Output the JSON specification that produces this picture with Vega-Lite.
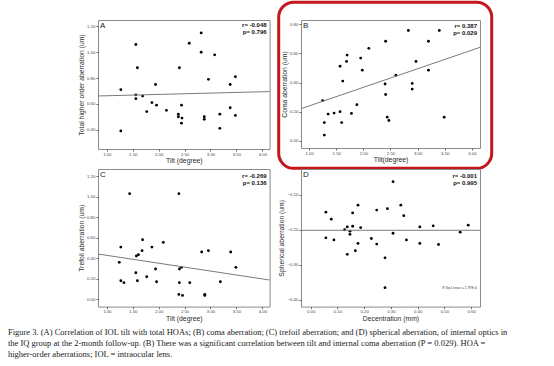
{
  "$schema": "https://vega.github.io/schema/vega-lite/v6.json",
  "padding": {"left": 7, "top": 0, "right": 0, "bottom": 0},
  "background": "white",
  "datasets": {
    "A": [
      {"x": 1.27, "y": 0.71}, {"x": 1.27, "y": 0.39}, {"x": 1.56, "y": 1.06}, {"x": 1.59, "y": 0.88},
      {"x": 1.56, "y": 0.67}, {"x": 1.56, "y": 0.64}, {"x": 1.69, "y": 0.66}, {"x": 1.77, "y": 0.54},
      {"x": 1.87, "y": 0.61}, {"x": 1.94, "y": 0.75}, {"x": 1.96, "y": 0.59}, {"x": 2.15, "y": 0.55},
      {"x": 2.38, "y": 0.52}, {"x": 2.38, "y": 0.50}, {"x": 2.40, "y": 0.88}, {"x": 2.44, "y": 0.59},
      {"x": 2.45, "y": 0.49}, {"x": 2.44, "y": 0.45}, {"x": 2.59, "y": 1.07}, {"x": 2.82, "y": 1.15},
      {"x": 2.82, "y": 1.00}, {"x": 2.88, "y": 0.50}, {"x": 2.88, "y": 0.48}, {"x": 2.96, "y": 0.79},
      {"x": 3.08, "y": 0.98}, {"x": 3.18, "y": 0.52}, {"x": 3.18, "y": 0.41}, {"x": 3.38, "y": 0.57},
      {"x": 3.38, "y": 0.75}, {"x": 3.48, "y": 0.81}, {"x": 3.48, "y": 0.51}
    ],
    "Afit": [{"x": 0.83, "y": 0.661}, {"x": 4.14, "y": 0.695}],
    "B": [
      {"x": 1.25, "y": 0.276}, {"x": 1.28, "y": 0.125}, {"x": 1.28, "y": 0.039}, {"x": 1.35, "y": 0.183},
      {"x": 1.46, "y": 0.19}, {"x": 1.57, "y": 0.20}, {"x": 1.57, "y": 0.512}, {"x": 1.60, "y": 0.125},
      {"x": 1.62, "y": 0.41}, {"x": 1.69, "y": 0.545}, {"x": 1.70, "y": 0.589}, {"x": 1.78, "y": 0.188},
      {"x": 1.88, "y": 0.248}, {"x": 1.95, "y": 0.568}, {"x": 1.98, "y": 0.485}, {"x": 2.10, "y": 0.635},
      {"x": 2.40, "y": 0.39}, {"x": 2.41, "y": 0.684}, {"x": 2.41, "y": 0.318}, {"x": 2.44, "y": 0.162},
      {"x": 2.47, "y": 0.139}, {"x": 2.60, "y": 0.45}, {"x": 2.83, "y": 0.758}, {"x": 2.90, "y": 0.394},
      {"x": 2.90, "y": 0.355}, {"x": 2.97, "y": 0.545}, {"x": 3.20, "y": 0.684}, {"x": 3.20, "y": 0.485},
      {"x": 3.40, "y": 0.758}, {"x": 3.49, "y": 0.162}
    ],
    "Bfit": [{"x": 0.85, "y": 0.22}, {"x": 4.15, "y": 0.642}],
    "C": [
      {"x": 1.24, "y": 0.361}, {"x": 1.27, "y": 0.51}, {"x": 1.27, "y": 0.182}, {"x": 1.33, "y": 0.163},
      {"x": 1.44, "y": 1.03}, {"x": 1.56, "y": 0.26}, {"x": 1.57, "y": 0.423}, {"x": 1.59, "y": 0.182},
      {"x": 1.61, "y": 0.436}, {"x": 1.68, "y": 0.475}, {"x": 1.69, "y": 0.582}, {"x": 1.77, "y": 0.221},
      {"x": 1.87, "y": 0.51}, {"x": 1.94, "y": 0.296}, {"x": 1.96, "y": 0.172}, {"x": 2.09, "y": 0.556},
      {"x": 2.39, "y": 1.03}, {"x": 2.40, "y": 0.296}, {"x": 2.44, "y": 0.312}, {"x": 2.40, "y": 0.163},
      {"x": 2.39, "y": 0.049}, {"x": 2.46, "y": 0.039}, {"x": 2.60, "y": 0.163}, {"x": 2.83, "y": 0.462},
      {"x": 2.89, "y": 0.049}, {"x": 2.89, "y": 0.039}, {"x": 2.96, "y": 0.475}, {"x": 3.19, "y": 0.172},
      {"x": 3.39, "y": 0.462}, {"x": 3.49, "y": 0.312}
    ],
    "Cfit": [{"x": 0.83, "y": 0.442}, {"x": 4.14, "y": 0.189}],
    "D": [
      {"x": 0.057, "y": -0.150}, {"x": 0.057, "y": -0.223}, {"x": 0.077, "y": -0.170}, {"x": 0.087, "y": -0.229},
      {"x": 0.127, "y": -0.200}, {"x": 0.137, "y": -0.192}, {"x": 0.137, "y": -0.270}, {"x": 0.147, "y": -0.204},
      {"x": 0.147, "y": -0.213}, {"x": 0.157, "y": -0.152}, {"x": 0.157, "y": -0.190}, {"x": 0.167, "y": -0.260},
      {"x": 0.177, "y": -0.130}, {"x": 0.177, "y": -0.239}, {"x": 0.187, "y": -0.194}, {"x": 0.227, "y": -0.225},
      {"x": 0.247, "y": -0.144}, {"x": 0.247, "y": -0.241}, {"x": 0.278, "y": -0.280}, {"x": 0.278, "y": -0.365},
      {"x": 0.287, "y": -0.140}, {"x": 0.308, "y": -0.063}, {"x": 0.308, "y": -0.210}, {"x": 0.337, "y": -0.130},
      {"x": 0.348, "y": -0.160}, {"x": 0.358, "y": -0.229}, {"x": 0.408, "y": -0.192}, {"x": 0.408, "y": -0.239},
      {"x": 0.458, "y": -0.189}, {"x": 0.478, "y": -0.242}, {"x": 0.559, "y": -0.207}, {"x": 0.589, "y": -0.187}
    ],
    "Dfit": [{"x": -0.036, "y": -0.2016}, {"x": 0.633, "y": -0.2016}],
    "one": [{}]
  },
  "title": {
    "text": [
      "Figure 3. (A) Correlation of IOL tilt with total HOAs; (B) coma aberration; (C) trefoil aberration; and (D) spherical aberration, of internal optics in",
      "the IQ group at the 2-month follow-up. (B) There was a significant correlation between tilt and internal coma aberration (P = 0.029). HOA =",
      "higher-order aberrations; IOL = intraocular lens."
    ],
    "orient": "bottom", "anchor": "start", "dx": -70, "offset": 5,
    "font": "Liberation Serif", "fontSize": 8.5, "fontWeight": "normal", "color": "#1a1a1a", "lineHeight": 11
  },
  "columns": 2,
  "spacing": {"row": 20, "column": 31},
  "bounds": "flush",
  "concat": [
    {
      "width": 171.6, "height": 129,
      "layer": [
        {"data": {"name": "A"}, "mark": {"type": "point", "filled": true, "size": 8, "color": "#000", "opacity": 1},
         "encoding": {
           "x": {"field": "x", "type": "quantitative", "scale": {"domain": [0.83, 4.14], "nice": false, "zero": false},
                 "axis": {"title": "Tilt (degree)", "values": [1, 1.5, 2, 2.5, 3, 3.5, 4], "tickCount": 20, "format": ".2f", "labelOverlap": false}},
           "y": {"field": "y", "type": "quantitative", "scale": {"domain": [0.25, 1.25], "nice": false, "zero": false},
                 "axis": {"title": "Total higher order aberration (um)", "values": [0.4, 0.6, 0.8, 1.0, 1.2], "tickCount": 20, "format": ".2f", "labelOverlap": false}}}},
        {"data": {"name": "Afit"}, "mark": {"type": "line", "color": "#7a7a7a", "strokeWidth": 1},
         "encoding": {"x": {"field": "x", "type": "quantitative"}, "y": {"field": "y", "type": "quantitative"}}},
        {"data": {"name": "one"}, "mark": {"type": "text", "align": "left", "baseline": "top", "dx": 2, "dy": 2, "fontSize": 8, "color": "#222"},
         "encoding": {"x": {"datum": 0.83}, "y": {"datum": 1.25}, "text": {"value": "A"}}},
        {"data": {"name": "one"}, "mark": {"type": "text", "align": "right", "baseline": "top", "dx": -3, "dy": 2, "fontSize": 6, "fontWeight": "bold", "color": "#111", "lineHeight": 6.5},
         "encoding": {"x": {"datum": 4.14}, "y": {"datum": 1.25}, "text": {"value": ["r= -0.048", "p= 0.796"]}}}
      ]
    },
    {
      "width": 179, "height": 128,
      "layer": [
        {"data": {"name": "B"}, "mark": {"type": "point", "filled": true, "size": 8, "color": "#000", "opacity": 1},
         "encoding": {
           "x": {"field": "x", "type": "quantitative", "scale": {"domain": [0.85, 4.15], "nice": false, "zero": false},
                 "axis": {"title": "Tilt(degree)", "values": [1, 1.5, 2, 2.5, 3, 3.5, 4], "tickCount": 20, "format": ".2f", "labelOverlap": false}},
           "y": {"field": "y", "type": "quantitative", "scale": {"domain": [-0.05, 0.83], "nice": false, "zero": false},
                 "axis": {"title": "Coma aberration (um)", "values": [0, 0.2, 0.4, 0.6, 0.8], "tickCount": 20, "format": ".2f", "labelOverlap": false}}}},
        {"data": {"name": "Bfit"}, "mark": {"type": "line", "color": "#7a7a7a", "strokeWidth": 1},
         "encoding": {"x": {"field": "x", "type": "quantitative"}, "y": {"field": "y", "type": "quantitative"}}},
        {"data": {"name": "one"}, "mark": {"type": "text", "align": "left", "baseline": "top", "dx": 2, "dy": 2, "fontSize": 8, "color": "#222"},
         "encoding": {"x": {"datum": 0.85}, "y": {"datum": 0.83}, "text": {"value": "B"}}},
        {"data": {"name": "one"}, "mark": {"type": "text", "align": "right", "baseline": "top", "dx": -3, "dy": 3, "fontSize": 6, "fontWeight": "bold", "color": "#111", "lineHeight": 6.5},
         "encoding": {"x": {"datum": 4.15}, "y": {"datum": 0.83}, "text": {"value": ["r= 0.387", "p= 0.029"]}}},
        {"data": {"name": "one"}, "mark": {"type": "rect", "fillOpacity": 0, "stroke": "#c4161c", "strokeWidth": 3, "cornerRadius": 15, "clip": false},
         "encoding": {"x": {"datum": 0.439}, "x2": {"datum": 4.366}, "y": {"datum": 0.952}, "y2": {"datum": -0.19}}}
      ]
    },
    {
      "width": 171.6, "height": 137.6,
      "layer": [
        {"data": {"name": "C"}, "mark": {"type": "point", "filled": true, "size": 8, "color": "#000", "opacity": 1},
         "encoding": {
           "x": {"field": "x", "type": "quantitative", "scale": {"domain": [0.83, 4.14], "nice": false, "zero": false},
                 "axis": {"title": "Tilt (degree)", "values": [1, 1.5, 2, 2.5, 3, 3.5, 4], "tickCount": 20, "format": ".2f", "labelOverlap": false}},
           "y": {"field": "y", "type": "quantitative", "scale": {"domain": [-0.07, 1.27], "nice": false, "zero": false},
                 "axis": {"title": "Trefoil aberration (um)", "values": [0, 0.2, 0.4, 0.6, 0.8, 1.0, 1.2], "tickCount": 20, "format": ".2f", "labelOverlap": false}}}},
        {"data": {"name": "Cfit"}, "mark": {"type": "line", "color": "#7a7a7a", "strokeWidth": 1},
         "encoding": {"x": {"field": "x", "type": "quantitative"}, "y": {"field": "y", "type": "quantitative"}}},
        {"data": {"name": "one"}, "mark": {"type": "text", "align": "left", "baseline": "top", "dx": 2, "dy": 2, "fontSize": 8, "color": "#222"},
         "encoding": {"x": {"datum": 0.83}, "y": {"datum": 1.27}, "text": {"value": "C"}}},
        {"data": {"name": "one"}, "mark": {"type": "text", "align": "right", "baseline": "top", "dx": -3, "dy": 4, "fontSize": 6, "fontWeight": "bold", "color": "#111", "lineHeight": 6.5},
         "encoding": {"x": {"datum": 4.14}, "y": {"datum": 1.27}, "text": {"value": ["r= -0.269", "p= 0.136"]}}}
      ]
    },
    {
      "width": 179, "height": 137.6,
      "layer": [
        {"data": {"name": "D"}, "mark": {"type": "point", "filled": true, "size": 8, "color": "#000", "opacity": 1},
         "encoding": {
           "x": {"field": "x", "type": "quantitative", "scale": {"domain": [-0.036, 0.633], "nice": false, "zero": false},
                 "axis": {"title": "Decentration (mm)", "values": [0, 0.1, 0.2, 0.3, 0.4, 0.5, 0.6], "tickCount": 20, "format": ".2f", "labelOverlap": false}},
           "y": {"field": "y", "type": "quantitative", "scale": {"domain": [-0.419, -0.027], "nice": false, "zero": false},
                 "axis": {"title": "Spherical aberration (um)", "values": [-0.4, -0.3, -0.2, -0.1], "tickCount": 20, "format": ".2f", "labelOverlap": false}}}},
        {"data": {"name": "Dfit"}, "mark": {"type": "line", "color": "#7a7a7a", "strokeWidth": 1},
         "encoding": {"x": {"field": "x", "type": "quantitative"}, "y": {"field": "y", "type": "quantitative"}}},
        {"data": {"name": "one"}, "mark": {"type": "text", "align": "left", "baseline": "top", "dx": 2, "dy": 2, "fontSize": 8, "color": "#222"},
         "encoding": {"x": {"datum": -0.036}, "y": {"datum": -0.027}, "text": {"value": "D"}}},
        {"data": {"name": "one"}, "mark": {"type": "text", "align": "right", "baseline": "top", "dx": -3, "dy": 4, "fontSize": 6, "fontWeight": "bold", "color": "#111", "lineHeight": 6.5},
         "encoding": {"x": {"datum": 0.633}, "y": {"datum": -0.027}, "text": {"value": ["r= -0.001", "p= 0.995"]}}},
        {"data": {"name": "one"}, "mark": {"type": "text", "align": "right", "baseline": "middle", "dx": -3, "fontSize": 3.5, "color": "#444"},
         "encoding": {"x": {"datum": 0.633}, "y": {"datum": -0.366}, "text": {"value": "R Sq Linear = 1.97E-6"}}}
      ]
    }
  ],
  "config": {
    "view": {"stroke": "#8a8a8a", "strokeWidth": 1},
    "axis": {"domain": false, "grid": false, "ticks": true, "tickSize": 2, "tickColor": "#666",
             "labelFont": "Liberation Sans", "labelFontSize": 4.3, "labelColor": "#444", "labelPadding": 1.2, "labelOverlap": false, "labelBound": false,
             "titleFont": "Liberation Sans", "titleFontSize": 6.8, "titleFontWeight": "normal", "titleColor": "#2a2a2a"},
    "axisX": {"titlePadding": 1.2, "labelFlush": false},
    "axisY": {"titlePadding": 2},
    "text": {"font": "Liberation Sans"}
  }
}
